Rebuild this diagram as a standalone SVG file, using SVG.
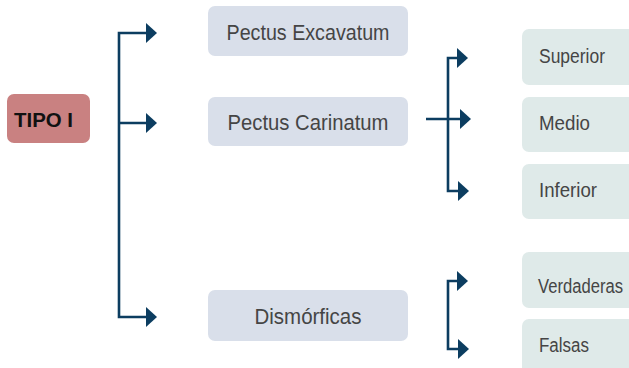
<svg xmlns="http://www.w3.org/2000/svg" width="629" height="368" viewBox="0 0 629 368">
  <defs>
    <style>
      .lbl { font-family: "Liberation Sans", "Open Sans", sans-serif; fill: #454545; }
      .mid { fill: #d9dfea; }
      .leaf { fill: #dfeae9; }
      .wire { fill: none; stroke: #0c3d60; stroke-width: 2.6; }
      .head { fill: #0c3d60; }
    </style>
  </defs>
  <rect width="629" height="368" fill="#ffffff"/>

  <g id="tipo-i">
    <rect x="7" y="94" width="83" height="49" rx="7" fill="#c98181"/>
    <text x="14" y="127" font-family="'Liberation Sans', Arial, sans-serif" font-weight="bold" font-size="21" fill="#111" textLength="59" lengthAdjust="spacingAndGlyphs">TIPO I</text>
  </g>

  <g id="pectus-excavatum">
    <rect class="mid" x="208" y="6" width="200" height="50" rx="7"/>
    <text class="lbl" x="308" y="40" font-size="22" text-anchor="middle" textLength="163" lengthAdjust="spacingAndGlyphs">Pectus Excavatum</text>
  </g>
  <g id="pectus-carinatum">
    <rect class="mid" x="208" y="97" width="200" height="49" rx="7"/>
    <text class="lbl" x="308" y="130" font-size="22" text-anchor="middle" textLength="161" lengthAdjust="spacingAndGlyphs">Pectus Carinatum</text>
  </g>
  <g id="dismorficas">
    <rect class="mid" x="208" y="290" width="200" height="51" rx="7"/>
    <text class="lbl" x="308" y="324" font-size="22" text-anchor="middle" textLength="107" lengthAdjust="spacingAndGlyphs">Dismórficas</text>
  </g>

  <g id="superior">
    <rect class="leaf" x="522" y="29" width="120" height="56" rx="7"/>
    <text class="lbl" x="539" y="63" font-size="20" textLength="66" lengthAdjust="spacingAndGlyphs">Superior</text>
  </g>
  <g id="medio">
    <rect class="leaf" x="522" y="97" width="120" height="55" rx="7"/>
    <text class="lbl" x="539" y="130" font-size="20" textLength="51" lengthAdjust="spacingAndGlyphs">Medio</text>
  </g>
  <g id="inferior">
    <rect class="leaf" x="522" y="164" width="120" height="55" rx="7"/>
    <text class="lbl" x="539" y="197" font-size="20" textLength="58" lengthAdjust="spacingAndGlyphs">Inferior</text>
  </g>
  <g id="verdaderas">
    <rect class="leaf" x="522" y="252" width="120" height="56" rx="7"/>
    <text class="lbl" x="538" y="293" font-size="20" textLength="85" lengthAdjust="spacingAndGlyphs">Verdaderas</text>
  </g>
  <g id="falsas">
    <rect class="leaf" x="522" y="319" width="120" height="60" rx="7"/>
    <text class="lbl" x="539" y="352" font-size="20" textLength="50" lengthAdjust="spacingAndGlyphs">Falsas</text>
  </g>

  <g id="connectors">
    <!-- TIPO I branches -->
    <path class="wire" d="M147 33 H119 V317 H147 M119 123 H147"/>
    <polygon class="head" points="146,23 157,33 146,43"/>
    <polygon class="head" points="146,113 157,123 146,133"/>
    <polygon class="head" points="146,307 157,317 146,327"/>
    <!-- Pectus Carinatum branches -->
    <path class="wire" d="M458 58 H448 V191 H458 M426 119 H461"/>
    <polygon class="head" points="457,48 468,58 457,68"/>
    <polygon class="head" points="460,109 471,119 460,129"/>
    <polygon class="head" points="458,181 469,191 458,201"/>
    <!-- Dismórficas branches -->
    <path class="wire" d="M458 281 H448 V349 H458"/>
    <polygon class="head" points="457,271 468,281 457,291"/>
    <polygon class="head" points="458,339 469,349 458,359"/>
  </g>
</svg>
